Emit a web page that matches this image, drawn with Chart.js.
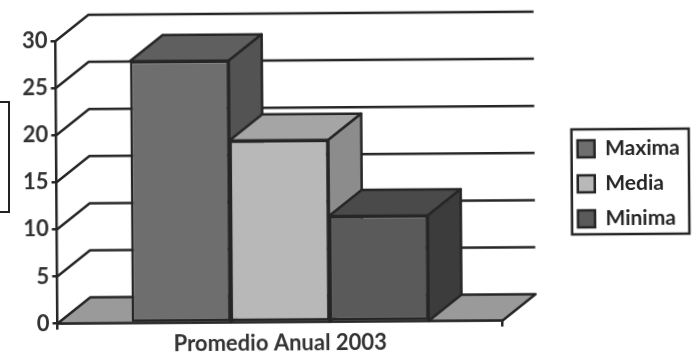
<!DOCTYPE html>
<html>
<head>
<meta charset="utf-8">
<script src="https://cdn.jsdelivr.net/npm/chart.js@4"></script>
<style>
  html, body { margin: 0; padding: 0; background: #fff; overflow: hidden; }
  #wrap { position: relative; width: 696px; height: 355px; }
  #graph { position: absolute; left: 0; top: 0; transform: rotate(-0.4deg); }
  /* piece of the cut off box at the left edge of the scan */
  #cutBox { position: absolute; left: -10px; top: 101px; width: 16px; height: 108px; border: 2px solid #222; }
</style>
</head>
<body>
<div id="wrap">
  <div id="cutBox"></div>
  <canvas id="graph" width="696" height="355"></canvas>
</div>
<script>
const categories = ['Promedio Anual 2003'];
const maxima = [27.8];
const media = [19.3];
const minima = [11.2];
const yTicks = [0, 5, 10, 15, 20, 25, 30];

const INK = '#262626';
const DEPTH_X = 33;
const DEPTH_Y = 26;
const FONT = 'Lato';
const LEGEND_DX = 62;
const LEGEND_DY = -13;

function face(ctx, pts, fill) {
  ctx.beginPath();
  pts.forEach((p, i) => i ? ctx.lineTo(p[0], p[1]) : ctx.moveTo(p[0], p[1]));
  ctx.closePath();
  if (fill) {
    ctx.fillStyle = fill;
    ctx.fill();
  }
  ctx.stroke();
}

// Chart.js has no 3D bars, so floor, back walls and bar sides are added here
const depthPlugin = {
  id: 'depth',
  afterLayout(chart) {
    // right padding keeps the plot narrow, the legend goes back out over it
    const lg = chart.legend;
    lg.left += LEGEND_DX;
    lg.right += LEGEND_DX;
    lg.top += LEGEND_DY;
    lg.bottom += LEGEND_DY;
  },
  beforeDatasetsDraw(chart) {
    const { ctx, scales } = chart;
    const left = scales.x.left;
    const right = scales.x.right;
    const base = scales.y.getPixelForValue(0);
    ctx.save();
    ctx.strokeStyle = INK;
    ctx.lineWidth = 2.5;
    ctx.lineJoin = 'round';

    face(ctx, [[left, base], [left + DEPTH_X, base - DEPTH_Y], [right + DEPTH_X, base - DEPTH_Y], [right, base]], '#9a9a9a');

    yTicks.forEach(v => {
      if (v === 0) return;
      const y = scales.y.getPixelForValue(v);
      ctx.beginPath();
      ctx.moveTo(left, y);
      ctx.lineTo(left + DEPTH_X, y - DEPTH_Y);
      ctx.lineTo(right + DEPTH_X, y - DEPTH_Y);
      ctx.stroke();
    });

    chart.data.datasets.forEach((ds, i) => {
      const bar = chart.getDatasetMeta(i).data[0];
      const l = bar.x - bar.width / 2;
      const r = bar.x + bar.width / 2;
      face(ctx, [[l, bar.y], [l + DEPTH_X, bar.y - DEPTH_Y], [r + DEPTH_X, bar.y - DEPTH_Y], [r, bar.y]], ds.topColor);
      face(ctx, [[r, bar.y], [r + DEPTH_X, bar.y - DEPTH_Y], [r + DEPTH_X, base - DEPTH_Y], [r, base]], ds.sideColor);
    });
    ctx.restore();
  },
  afterDraw(chart) {
    const boxes = chart.legend.legendHitBoxes;
    const { ctx } = chart;
    const l = Math.min(...boxes.map(b => b.left)) - 6;
    const r = Math.max(...boxes.map(b => b.left + b.width)) + 9;
    const t = boxes[0].top - 9;
    const b = boxes[boxes.length - 1].top + boxes[boxes.length - 1].height + 5;
    ctx.save();
    ctx.strokeStyle = INK;
    ctx.lineWidth = 2.5;
    ctx.strokeRect(l, t, r - l, b - t);
    ctx.restore();
  }
};

new Chart(document.getElementById('graph'), {
  type: 'bar',
  data: {
    labels: categories,
    datasets: [
      { label: 'Maxima', data: maxima, backgroundColor: '#6e6e6e', topColor: '#5f5f5f', sideColor: '#535353' },
      { label: 'Media', data: media, backgroundColor: '#b8b8b8', topColor: '#a5a5a5', sideColor: '#8c8c8c' },
      { label: 'Minima', data: minima, backgroundColor: '#5a5a5a', topColor: '#4a4a4a', sideColor: '#3c3c3c' }
    ].map(ds => ({ ...ds, borderColor: INK, borderWidth: 2.5, borderSkipped: false }))
  },
  plugins: [depthPlugin],
  options: {
    responsive: false,
    animation: false,
    categoryPercentage: 0.667,
    barPercentage: 1,
    layout: { padding: { top: 39, right: 68, bottom: -3, left: 20 } },
    plugins: {
      tooltip: { enabled: false },
      legend: {
        position: 'right',
        labels: {
          boxWidth: 17,
          boxHeight: 17,
          padding: 14,
          color: INK,
          font: { family: FONT, size: 21, weight: 'bold' }
        }
      }
    },
    scales: {
      x: {
        grid: { offset: true, drawOnChartArea: false, color: INK, lineWidth: 2.5, tickLength: 6 },
        border: { color: INK, width: 2.5 },
        ticks: { color: '#333', padding: 2, font: { family: FONT, size: 22, weight: 'bold' } }
      },
      y: {
        min: 0,
        max: 30,
        afterBuildTicks: scale => { scale.ticks = yTicks.map(v => ({ value: v })); },
        grid: { drawOnChartArea: false, color: INK, lineWidth: 2.5, tickLength: 5 },
        border: { color: INK, width: 2.5 },
        ticks: { color: '#333', padding: 3, font: { family: FONT, size: 22, weight: 'bold' } }
      }
    }
  }
});
</script>
</body>
</html>
